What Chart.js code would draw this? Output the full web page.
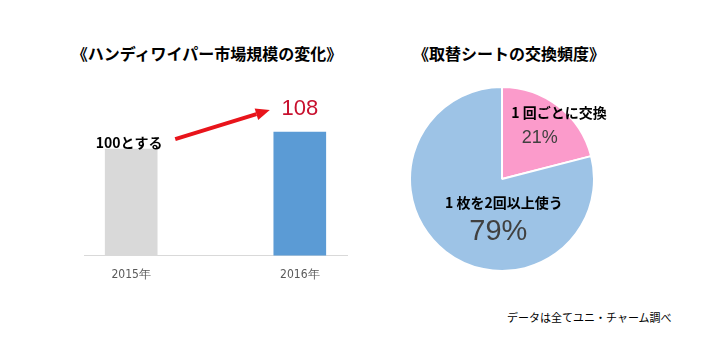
<!DOCTYPE html>
<html>
<head>
<meta charset="utf-8">
<script src="https://cdn.jsdelivr.net/npm/chart.js@4/dist/chart.umd.min.js"></script>
<style>
  html, body { margin:0; padding:0; background:#fff; }
  body { width:718px; height:355px; position:relative; overflow:hidden; font-family:"Noto Sans CJK JP", sans-serif; }
  .abs { position:absolute; }
  .title { font-weight:bold; font-size:16px; color:#000; white-space:nowrap; transform:translateX(-50%); line-height:20px; }
  #foot { font-size:11px; color:#000; white-space:nowrap; line-height:14px; }
</style>
</head>
<body>
<div class="abs title" id="t1" style="left:207px; top:43px;"></div>
<div class="abs title" id="t2" style="left:509px; top:43px;"></div>
<div class="abs" id="foot" style="left:507px; top:310px;"></div>
<div class="abs" style="left:0; top:0; width:360px; height:300px;"><canvas id="bar"></canvas></div>
<div class="abs" style="left:360px; top:86px; width:284px; height:186px;"><canvas id="pie"></canvas></div>
<script>
// ---- data ----
const barTitle = "《ハンディワイパー市場規模の変化》";
const barCategories = ["2015年", "2016年"];
const barValues = [100, 108];
const barBaseSuffix = "とする";

const pieTitle = "《取替シートの交換頻度》";
const pieLabels = ["1 回ごとに交換", "1 枚を2回以上使う"];
const pieValues = [21, 79];

const footnote = "データは全てユニ・チャーム調べ";

document.getElementById('t1').textContent = barTitle;
document.getElementById('t2').textContent = pieTitle;
document.getElementById('foot').textContent = footnote;

const JP = '"Noto Sans CJK JP", sans-serif';
const NUM = '"Liberation Sans", Arial, sans-serif';
const NARROW = '"Liberation Sans Narrow", "DejaVu Sans Condensed", sans-serif';

// ---- bar annotations ----
const barAnno = {
  id: 'barAnno',
  afterDatasetsDraw(chart) {
    const ctx = chart.ctx;
    const bars = chart.getDatasetMeta(0).data;
    const b0 = bars[0], b1 = bars[1];
    ctx.save();
    ctx.fillStyle = '#000';
    ctx.font = 'bold 14px ' + JP;
    ctx.textAlign = 'center';
    ctx.textBaseline = 'bottom';
    ctx.fillText(barValues[0] + barBaseSuffix, b0.x - 2, b0.y + 1);
    ctx.fillStyle = '#C8102E';
    ctx.font = '22px ' + NUM;
    ctx.textBaseline = 'middle';
    ctx.fillText(String(barValues[1]), b1.x, b1.y - 23);
    const x1 = b0.x + 44, y1 = b0.y - 10;
    const x2 = b1.x - 30, y2 = b1.y - 22;
    const ang = Math.atan2(y2 - y1, x2 - x1);
    const headLen = 14, headW = 6;
    const bx = x2 - headLen * Math.cos(ang), by = y2 - headLen * Math.sin(ang);
    ctx.strokeStyle = '#E8141B';
    ctx.fillStyle = '#E8141B';
    ctx.lineWidth = 4;
    ctx.beginPath();
    ctx.moveTo(x1, y1);
    ctx.lineTo(bx, by);
    ctx.stroke();
    ctx.beginPath();
    ctx.moveTo(x2, y2);
    ctx.lineTo(bx + headW * Math.sin(ang), by - headW * Math.cos(ang));
    ctx.lineTo(bx - headW * Math.sin(ang), by + headW * Math.cos(ang));
    ctx.closePath();
    ctx.fill();
    ctx.restore();
  }
};

new Chart(document.getElementById('bar'), {
  type: 'bar',
  data: {
    datasets: [{
      data: barValues.map((v, i) => ({ x: i, y: v })),
      backgroundColor: ['#D9D9D9', '#5B9BD5'],
      borderWidth: 0,
      barThickness: 52
    }]
  },
  options: {
    responsive: true,
    maintainAspectRatio: false,
    animation: false,
    events: [],
    layout: { padding: { left: 84, right: 13, top: 0, bottom: 6 } },
    plugins: { legend: { display: false }, tooltip: { enabled: false }, title: { display: false } },
    scales: {
      x: {
        type: 'linear',
        offset: false,
        min: -0.28,
        max: 1.28,
        afterBuildTicks(scale) { scale.ticks = barCategories.map((_, i) => ({ value: i })); },
        ticks: {
          callback: (v) => barCategories[v] ?? '',
          color: '#595959',
          font: { family: NARROW, size: 12 },
          padding: 12,
          maxRotation: 0,
          autoSkip: false
        },
        grid: { display: false, drawTicks: false },
        border: { display: true, color: '#D9D9D9', width: 1 }
      },
      y: {
        display: false,
        min: 50,
        max: 170
      }
    }
  },
  plugins: [barAnno]
});

// ---- pie labels ----
const labelPos = [
  { name: [0.62, -0.72], pct: [0.41, -0.45], pctSize: 18 },
  { name: [0.02, 0.26], pct: [-0.04, 0.58], pctSize: 29 }
];
const pieAnno = {
  id: 'pieAnno',
  afterDatasetsDraw(chart) {
    const ctx = chart.ctx;
    const arcs = chart.getDatasetMeta(0).data;
    const cx = arcs[0].x, cy = arcs[0].y, r = arcs[0].outerRadius;
    ctx.save();
    ctx.textAlign = 'center';
    ctx.textBaseline = 'middle';
    pieLabels.forEach((lab, i) => {
      const p = labelPos[i];
      ctx.fillStyle = '#000';
      ctx.font = 'bold 14px ' + JP;
      ctx.fillText(lab, cx + p.name[0] * r, cy + p.name[1] * r);
      ctx.fillStyle = '#404040';
      ctx.font = p.pctSize + 'px ' + NUM;
      ctx.fillText(pieValues[i] + '%', cx + p.pct[0] * r, cy + p.pct[1] * r);
    });
    ctx.restore();
  }
};

new Chart(document.getElementById('pie'), {
  type: 'pie',
  data: {
    labels: pieLabels,
    datasets: [{
      data: pieValues,
      backgroundColor: ['#FB9BCB', '#9DC3E6'],
      borderColor: '#FFFFFF',
      borderWidth: 2
    }]
  },
  options: {
    responsive: true,
    maintainAspectRatio: false,
    animation: false,
    events: [],
    plugins: { legend: { display: false }, tooltip: { enabled: false } }
  },
  plugins: [pieAnno]
});
</script>
</body>
</html>
